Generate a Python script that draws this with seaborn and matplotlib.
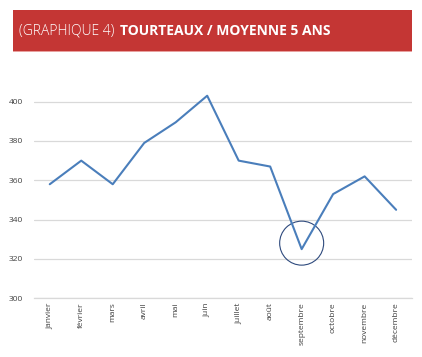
import numpy as np
import pandas as pd
import matplotlib.pyplot as plt
import seaborn as sns
from matplotlib.patches import Rectangle, Ellipse

months = ["janvier", "février", "mars", "avril", "mai", "juin", "juillet",
          "août", "septembre", "octobre", "novembre", "décembre"]
values = [358, 370, 358, 379, 389.5, 403, 370, 367, 325, 353, 362, 345]
y_ticks = [300, 320, 340, 360, 380, 400]
highlight = "septembre"

df = pd.DataFrame({"mois": months, "valeur": values})

sns.set_style("white")
plt.rcParams["font.family"] = ["Open Sans", "DejaVu Sans"]

fig = plt.figure(figsize=(4.22, 3.57), dpi=100)
ax = fig.add_axes([0.0806, 0.1644, 0.8954, 0.606])

sns.lineplot(data=df, x="mois", y="valeur", sort=False, color="#4a7ebb",
             linewidth=1.5, ax=ax)

ax.set_xlim(-0.5, len(months) - 0.5)
ax.set_ylim(300, 410)
ax.set_yticks(y_ticks)
ax.set_yticklabels([str(v) for v in y_ticks], fontsize=6, color="#404040")
ax.set_xticks(range(len(months)))
ax.set_xticklabels(months, rotation=90, fontsize=6, color="#404040")
ax.tick_params(axis="x", length=0, pad=3)
ax.tick_params(axis="y", length=0, pad=8)
ax.set_xticks(np.arange(-0.5, len(months), 1), minor=True)
ax.tick_params(axis="x", which="minor", length=3, color="#d9d9d9", width=0.8)
ax.set_xlabel("")
ax.set_ylabel("")
ax.grid(axis="y", color="#d9d9d9", linewidth=0.9)
for s in ["top", "right", "left"]:
    ax.spines[s].set_visible(False)
ax.spines["bottom"].set_color("#d9d9d9")
ax.spines["bottom"].set_linewidth(0.9)
ax.set_axisbelow(True)

# circle around the lowest point
i = months.index(highlight)
x0, y0 = ax.transData.transform((i, values[i]))
cx, cy = fig.transFigure.inverted().transform((x0, y0 + 6))
ax.add_patch(Ellipse((cx, cy), 44 / 422, 44 / 357, transform=fig.transFigure,
                     fill=False, edgecolor="#2e4a7d", linewidth=0.8, clip_on=False))

# title banner
fig.patches.append(Rectangle((13 / 422, 1 - 51 / 357), 399 / 422, 41 / 357,
                             transform=fig.transFigure, facecolor="#c43634",
                             edgecolor="none"))
fig.patches.append(Rectangle((13 / 422, 1 - 52 / 357), 399 / 422, 1 / 357,
                             transform=fig.transFigure, facecolor="#e8a09e",
                             edgecolor="none"))
t1 = fig.text(19 / 422, 1 - 31 / 357, "(GRAPHIQUE 4)", color="white",
              fontsize=10, fontweight="light", va="center", ha="left")
fig.canvas.draw()
bb = t1.get_window_extent()
fig.text((bb.x1 + 6) / 422, 1 - 31 / 357, "TOURTEAUX / MOYENNE 5 ANS",
         color="white", fontsize=10, fontweight="bold", va="center", ha="left")

fig.savefig("out.png", dpi=100)
